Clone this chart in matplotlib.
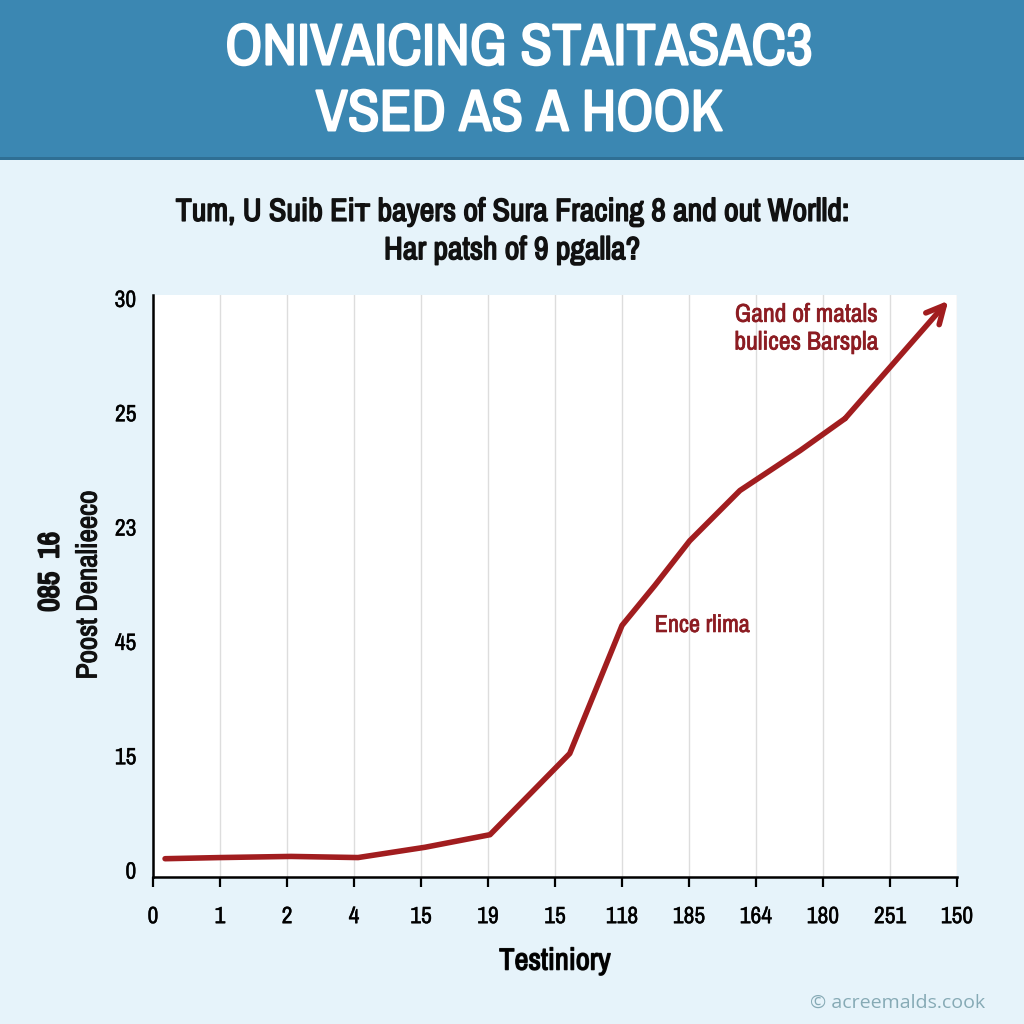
import matplotlib.pyplot as plt
import matplotlib.patheffects as pe
from matplotlib import font_manager as fm
from matplotlib.patches import Rectangle

# == DATA ==================================================================== #
x_labels = ['0', '1', '2', '4', '15', '19', '15', '118', '185', '164', '180', '251', '150']
y_labels = ['0', '15', '45', '23', '25', '30']

# line, in tick-slot units
line_x = [0.18, 1.0, 2.06, 3.06, 4.06, 5.03, 6.22, 7.0, 7.49, 8.01, 8.76, 9.66, 10.33]
line_y = [0.10, 0.11, 0.12, 0.11, 0.20, 0.31, 1.02, 2.14, 2.49, 2.88, 3.32, 3.67, 3.95]
arrow_end = (11.87, 4.98)

title = 'ONIVAICING STAITASAC3\nVSED AS A HOOK'
subtitle = 'Tum, U Suib Eiт bayers of Sura Fracing 8 and out Worlld:\nHar patsh of 9 pgalla?'

# == STYLE =================================================================== #
# look for any narrow face that happens to be installed
narrow = sorted({f.name for f in fm.fontManager.ttflist
                 if any(k in f.name for k in ('Narrow', 'Condensed'))
                 or str(f.stretch) in ('condensed', 'semi-condensed', 'extra-condensed')})
COND = narrow[:1] + ['Roboto', 'DejaVu Sans']
RED = '#a11d1f'
TXT_RED = '#8c1c22'
INK = '#111111'
BG = '#e6f3fa'
HEAD = '#3b87b2'


def heavy(color, w=1.0):
    # fake a bolder weight with a thin outline
    return [pe.withStroke(linewidth=w, foreground=color)]


fig = plt.figure(figsize=(10.24, 10.24), dpi=100, facecolor=BG)

# header band
fig.patches.append(Rectangle((0, 1 - 158 / 1024), 1, 158 / 1024, transform=fig.transFigure,
                             facecolor=HEAD, edgecolor='none', zorder=0))
fig.patches.append(Rectangle((0, 1 - 160 / 1024), 1, 3 / 1024, transform=fig.transFigure,
                             facecolor='#2f6f94', edgecolor='none', zorder=0))
fig.text(0.507, 1 - 81 / 1024, title, ha='center', va='center', color='white',
         fontsize=42, fontweight='bold', family=COND, linespacing=1.3,
         path_effects=heavy('white', 1.5))

fig.text(0.500, 1 - 231 / 1024, subtitle, ha='center', va='center', color=INK,
         fontsize=23, family=COND, linespacing=1.45, path_effects=heavy(INK, 1.1))

# == AXES ==================================================================== #
ax = fig.add_axes([153 / 1024, 1 - 877 / 1024, 804 / 1024, 582 / 1024])
ax.set_facecolor('white')
ax.set_xlim(0, 12)
ax.set_ylim(-0.06, 5.03)

ax.plot(line_x, line_y, color=RED, lw=4, solid_capstyle='round', solid_joinstyle='round', zorder=3)
ax.annotate('', xy=arrow_end, xytext=(line_x[-1], line_y[-1]),
            arrowprops=dict(arrowstyle='->', color=RED, lw=4, mutation_scale=32,
                            shrinkA=0, shrinkB=0), zorder=3)

ax.set_xticks(range(len(x_labels)))
ax.set_xticklabels(x_labels, family=COND, fontsize=17)
ax.set_yticks(range(len(y_labels)))
ax.set_yticklabels(y_labels, family=COND, fontsize=17)
for lab in ax.get_xticklabels() + ax.get_yticklabels():
    lab.set_path_effects(heavy(INK, 0.3))
ax.tick_params(axis='x', length=7, width=1.6, pad=14, color='black')
ax.tick_params(axis='y', length=0, pad=12)
for s in ['top', 'right']:
    ax.spines[s].set_visible(False)
for s in ['left', 'bottom']:
    ax.spines[s].set_linewidth(1.8)
ax.grid(axis='x', color='#dddddd', lw=1)
ax.set_axisbelow(True)

ax.text(9.75, 4.74, 'Gand of matals\nbulices Barspla', ha='center', va='center', color=TXT_RED,
        fontsize=18.5, family=COND, linespacing=1.25, path_effects=heavy(TXT_RED, 0.5))
ax.text(8.2, 2.14, 'Ence rlima', ha='center', va='center', color=TXT_RED,
        fontsize=17.5, family=COND, path_effects=heavy(TXT_RED, 0.5))

ax.set_xlabel('Testiniory', family=COND, fontsize=22, labelpad=14,
              path_effects=heavy(INK, 1.0))

# y label (two lines, first bold)
fig.text(88 / 1024, 1 - 585 / 1024, 'Poost Denalieeco', rotation=90, ha='center', va='center',
         fontsize=21, family=COND, color=INK, path_effects=heavy(INK, 0.8))
fig.text(50 / 1024, 1 - 572 / 1024, '085  16', rotation=90, ha='center', va='center',
         fontsize=21, family=COND, color=INK, path_effects=heavy(INK, 1.4))

fig.text(898 / 1024, 1 - 1003 / 1024, '© acreemalds.cook', ha='center', va='center',
         fontsize=14, family=['Open Sans', 'DejaVu Sans'], color='#86aab5')

fig.savefig('out.png', dpi=100, facecolor=BG)
